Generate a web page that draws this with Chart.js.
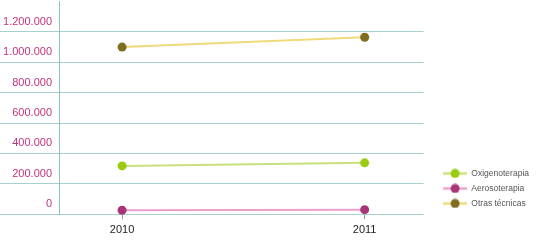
<!DOCTYPE html>
<html>
<head>
<meta charset="utf-8">
<script src="https://cdn.jsdelivr.net/npm/chart.js@4"></script>
<style>
  html, body { margin: 0; padding: 0; background: #fff; }
  #wrap { width: 539px; height: 240px; }
</style>
</head>
<body>
<div id="wrap"><canvas id="chart"></canvas></div>
<script>
// Daten
const years = [2010, 2011];
const oxigenoterapia = [318000, 338000];
const aerosoterapia = [26000, 30000];
const otrasTecnicas = [1100000, 1165000];
const seriesNames = ['Oxigenoterapia', 'Aerosoterapia', 'Otras técnicas'];
const yTicks = [0, 200000, 400000, 600000, 800000, 1000000, 1200000, 1400000];

// Farben
const lineColors = ['#c9e07c', '#e9a0cb', '#efdb7a'];
const pointColors = ['#99cc10', '#a83578', '#7f6d20'];

// Legendensymbol: Linie mit Punkt (links etwas Luft)
const SYMBOL_MARGIN = 13;
function legendSymbol(lineColor, pointColor) {
  const c = document.createElement('canvas');
  c.width = 24 + SYMBOL_MARGIN;
  c.height = 10;
  const ctx = c.getContext('2d');
  ctx.strokeStyle = lineColor;
  ctx.lineWidth = 2.5;
  ctx.beginPath();
  ctx.moveTo(SYMBOL_MARGIN, 5);
  ctx.lineTo(SYMBOL_MARGIN + 24, 5);
  ctx.stroke();
  ctx.fillStyle = pointColor;
  ctx.beginPath();
  ctx.arc(SYMBOL_MARGIN + 12, 5, 4.5, 0, Math.PI * 2);
  ctx.fill();
  return c;
}
const symbols = lineColors.map((c, i) => legendSymbol(c, pointColors[i]));

function makeDataset(i, values) {
  return {
    label: seriesNames[i],
    data: years.map((y, k) => ({ x: y, y: values[k] })),
    borderColor: lineColors[i],
    backgroundColor: pointColors[i],
    pointBackgroundColor: pointColors[i],
    pointBorderWidth: 0,
    pointRadius: 4.5,
    pointStyle: 'circle',
    borderWidth: 2,
    clip: false
  };
}

const fmt = v => v.toLocaleString('de-DE');

new Chart(document.getElementById('chart'), {
  type: 'line',
  data: {
    datasets: [
      makeDataset(0, oxigenoterapia),
      makeDataset(1, aerosoterapia),
      makeDataset(2, otrasTecnicas)
    ]
  },
  options: {
    responsive: true,
    maintainAspectRatio: false,
    animation: false,
    layout: { autoPadding: false, padding: { top: 1.5, right: 0, bottom: 0, left: 0 } },
    scales: {
      x: {
        type: 'linear',
        min: 2009.74,
        max: 2011.243,
        afterBuildTicks: scale => { scale.ticks = years.map(v => ({ value: v })); },
        border: { display: false },
        grid: {
          drawOnChartArea: false,
          color: '#999',
          tickLength: 5
        },
        ticks: {
          callback: v => String(v),
          color: '#222',
          font: { family: 'Liberation Sans', size: 11, lineHeight: 0.8 },
          padding: 6,
          maxRotation: 0
        }
      },
      y: {
        min: 0,
        max: 1400000,
        afterBuildTicks: scale => { scale.ticks = yTicks.map(v => ({ value: v })); },
        afterFit: scale => { scale.width = 59; },
        border: { display: true, color: '#8cc4c4', width: 1 },
        grid: {
          color: ctx => ctx.tick && ctx.tick.value === 1400000 ? 'rgba(0,0,0,0)' : '#a8d0d0',
          tickLength: 59,
          lineWidth: 1
        },
        ticks: {
          callback: v => v === 1400000 ? '' : fmt(v),
          color: '#c0337f',
          font: { family: 'Liberation Sans', size: 11, lineHeight: 0.3 },
          padding: -52,
          labelOffset: -10
        }
      }
    },
    plugins: {
      legend: {
        position: 'right',
        align: 'end',
        fullSize: false,
        labels: {
          usePointStyle: true,
          pointStyleWidth: 24 + SYMBOL_MARGIN,
          boxHeight: 10,
          padding: 6.5,
          color: '#555',
          font: { family: 'Liberation Sans', size: 8.5 },
          generateLabels: chart => {
            const items = Chart.defaults.plugins.legend.labels.generateLabels(chart);
            items.forEach(item => { item.pointStyle = symbols[item.datasetIndex]; });
            return items;
          }
        }
      },
      tooltip: { enabled: false }
    }
  }
});
</script>
</body>
</html>
